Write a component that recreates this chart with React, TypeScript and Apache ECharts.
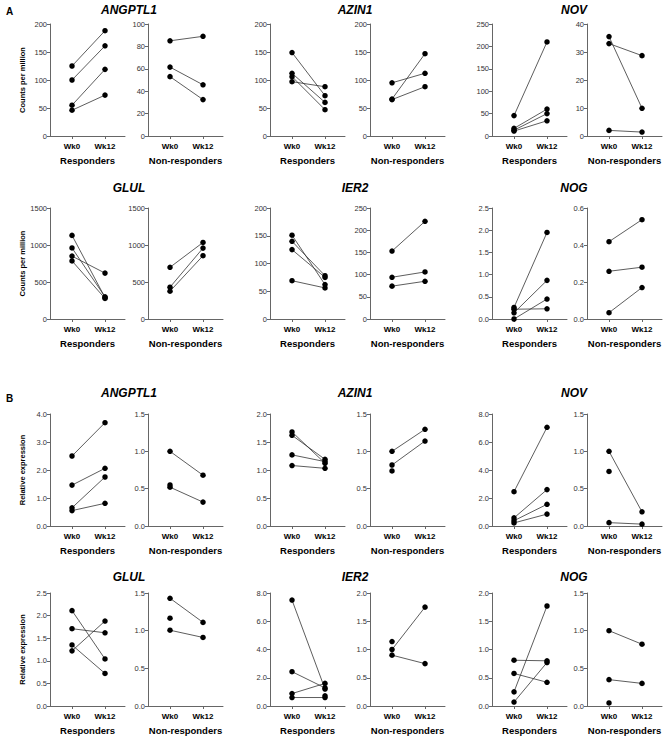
import { useEffect, useRef } from 'react';
import * as echarts from 'echarts';

// ---------- labels ----------
const timepoints = ['Wk0', 'Wk12'];
const groupNames = ['Responders', 'Non-responders'];
const genesRow1 = ['ANGPTL1', 'AZIN1', 'NOV'];
const genesRow2 = ['GLUL', 'IER2', 'NOG'];
const yTitleA = 'Counts per million';
const yTitleB = 'Relative expression';
const sectionLabels = ['A', 'B'];

// ---------- data: [Wk0, Wk12] per subject (null = not measured) ----------
// Panel A (counts per million)
const cpmAngptl1Resp = [[125, 188], [100, 161], [55, 119], [46, 73]];
const cpmAngptl1Non = [[85, 89], [61.5, 45.7], [53, 32.5]];
const cpmAzin1Resp = [[149, 72], [112, 60], [106, 47], [97, 88]];
const cpmAzin1Non = [[95, 112], [66, 147], [65, 88]];
const cpmNovResp = [[45.5, 210], [17, 60], [13, 50], [11, 34]];
const cpmNovNon = [[35.5, 9.9], [33, 28.7], [2, 1.4]];
const cpmGlulResp = [[1130, 290], [960, 300], [850, 620], [785, 278]];
const cpmGlulNon = [[699, 1034], [430, 958], [376, 855]];
const cpmIer2Resp = [[151, 62], [140, 78], [125, 75], [69, 56]];
const cpmIer2Non = [[153, 220], [94, 106], [74, 85]];
const cpmNogResp = [[0.26, 1.95], [0.22, 0.23], [0.14, 0.87], [0.0, 0.45]];
const cpmNogNon = [[0.418, 0.537], [0.258, 0.28], [0.034, 0.17]];

// Panel B (relative expression)
const relAngptl1Resp = [[2.5, 3.69], [1.46, 2.06], [0.65, 1.75], [0.55, 0.81]];
const relAngptl1Non = [[1.0, 0.68], [0.52, 0.32], [0.55, null]];
const relAzin1Resp = [[1.68, 1.12], [1.62, 1.19], [1.27, 1.15], [1.08, 1.03]];
const relAzin1Non = [[1.0, 1.295], [0.817, 1.138], [0.737, null]];
const relNovResp = [[2.45, 7.05], [0.58, 2.6], [0.38, 1.55], [0.22, 0.85]];
const relNovNon = [[1.0, 0.19], [0.045, 0.025], [0.73, null]];
const relGlulResp = [[2.11, 1.04], [1.71, 1.62], [1.35, 0.72], [1.22, 1.88]];
const relGlulNon = [[1.43, 1.11], [1.006, 0.91], [1.166, null]];
const relIer2Resp = [[7.5, 1.2], [2.43, 1.28], [0.88, 1.6], [0.6, 0.6], [null, 0.72]];
const relIer2Non = [[1.0, 1.75], [0.9, 0.75], [1.14, null]];
const relNogResp = [[0.81, 0.8], [0.576, 0.42], [0.25, 1.77], [0.07, 0.77]];
const relNogNon = [[1.0, 0.82], [0.35, 0.3], [0.04, null]];

// axis ranges per panel, row by row: [max, interval, decimals]
const axesRow1 = [[200, 50, 0], [100, 20, 0], [200, 50, 0], [200, 50, 0], [250, 50, 0], [40, 10, 0]];
const axesRow2 = [[1500, 500, 0], [1500, 500, 0], [200, 50, 0], [250, 50, 0], [2.5, 0.5, 1], [0.6, 0.2, 1]];
const axesRow3 = [[4, 1, 1], [1.5, 0.5, 1], [2, 0.5, 1], [1.5, 0.5, 1], [8, 2, 1], [1.5, 0.5, 1]];
const axesRow4 = [[2.5, 0.5, 1], [1.5, 0.5, 1], [8, 2, 1], [2, 0.5, 1], [2, 0.5, 1], [1.5, 0.5, 1]];

const dataRows = [
  [cpmAngptl1Resp, cpmAngptl1Non, cpmAzin1Resp, cpmAzin1Non, cpmNovResp, cpmNovNon],
  [cpmGlulResp, cpmGlulNon, cpmIer2Resp, cpmIer2Non, cpmNogResp, cpmNogNon],
  [relAngptl1Resp, relAngptl1Non, relAzin1Resp, relAzin1Non, relNovResp, relNovNon],
  [relGlulResp, relGlulNon, relIer2Resp, relIer2Non, relNogResp, relNogNon],
];
const axisRows = [axesRow1, axesRow2, axesRow3, axesRow4];

// ---------- layout ----------
const colX = [50, 148, 270, 370, 492, 587];
const rowTop = [24, 208, 414, 593];
const rowBottom = [136, 319, 526, 706];
const plotW = 75;
const titleY = [10, 188, 393, 577];
const titleX = [129, 355, 574];
const FONT = '"Liberation Sans", Arial, Helvetica, sans-serif';

function buildOption() {
  const grid: any[] = [];
  const xAxis: any[] = [];
  const yAxis: any[] = [];
  const series: any[] = [];
  const graphic: any[] = [];

  let idx = 0;
  for (let r = 0; r < 4; r++) {
    for (let c = 0; c < 6; c++) {
      const [max, interval, decimals] = axisRows[r][c];
      const pairs = dataRows[r][c];
      grid.push({
        left: colX[c],
        top: rowTop[r],
        width: plotW,
        height: rowBottom[r] - rowTop[r],
        outerBoundsMode: 'none',
        containLabel: false,
      });
      xAxis.push({
        type: 'value',
        gridIndex: idx,
        min: -0.667,
        max: 1.606,
        name: groupNames[c % 2],
        nameLocation: 'middle',
        nameGap: 19,
        nameTextStyle: { fontFamily: FONT, fontWeight: 'bold', fontSize: 9.5, color: '#000' },
        axisLine: { show: true, onZero: false, lineStyle: { color: '#666', width: 1 } },
        axisTick: { show: true, customValues: [0, 1], length: 3, lineStyle: { color: '#666' } },
        axisLabel: {
          show: true,
          customValues: [0, 1],
          formatter: (v: number) => timepoints[Math.round(v)] ?? '',
          fontFamily: FONT,
          fontWeight: 'bold',
          fontSize: 8,
          color: '#000',
          margin: 6,
        },
        splitLine: { show: false },
      });
      const yAx: any = {
        type: 'value',
        gridIndex: idx,
        min: 0,
        max,
        interval,
        axisLine: { show: true, onZero: false, lineStyle: { color: '#666', width: 1 } },
        axisTick: { show: true, length: 3, lineStyle: { color: '#666' } },
        axisLabel: {
          fontFamily: FONT,
          fontSize: 7.5,
          color: '#333',
          margin: 3,
          formatter: (v: number) => v.toFixed(decimals),
        },
        splitLine: { show: false },
      };
      if (c === 0) {
        yAx.name = r < 2 ? yTitleA : yTitleB;
        yAx.nameLocation = 'middle';
        yAx.nameGap = 24;
        yAx.nameRotate = 90;
        yAx.nameTextStyle = { fontFamily: FONT, fontWeight: 'bold', fontSize: 7.5, color: '#000' };
      }
      yAxis.push(yAx);

      const singles: any[] = [];
      pairs.forEach((p: any[]) => {
        if (p[0] != null && p[1] != null) {
          series.push({
            type: 'line',
            xAxisIndex: idx,
            yAxisIndex: idx,
            data: [[0, p[0]], [1, p[1]]],
            symbol: 'circle',
            symbolSize: 5.5,
            showSymbol: true,
            clip: false,
            itemStyle: { color: '#000', opacity: 1 },
            lineStyle: { color: '#333', width: 0.8 },
            silent: true,
          });
        } else {
          if (p[0] != null) singles.push([0, p[0]]);
          if (p[1] != null) singles.push([1, p[1]]);
        }
      });
      if (singles.length) {
        series.push({
          type: 'scatter',
          xAxisIndex: idx,
          yAxisIndex: idx,
          data: singles,
          symbol: 'circle',
          symbolSize: 5.5,
          clip: false,
          itemStyle: { color: '#000', opacity: 1 },
          silent: true,
        });
      }
      idx++;
    }
    const genes = r % 2 === 0 ? genesRow1 : genesRow2;
    genes.forEach((g, k) => {
      graphic.push({
        type: 'text',
        x: titleX[k],
        y: titleY[r],
        style: {
          text: g,
          fontFamily: FONT,
          fontWeight: 'bold',
          fontStyle: 'italic',
          fontSize: 12,
          fill: '#000',
          align: 'center',
          verticalAlign: 'middle',
        },
      });
    });
  }
  graphic.push({
    type: 'text', x: 6, y: 11,
    style: { text: sectionLabels[0], fontFamily: FONT, fontWeight: 'bold', fontSize: 10, fill: '#000', align: 'left', verticalAlign: 'middle' },
  });
  graphic.push({
    type: 'text', x: 6, y: 398,
    style: { text: sectionLabels[1], fontFamily: FONT, fontWeight: 'bold', fontSize: 10, fill: '#000', align: 'left', verticalAlign: 'middle' },
  });

  return {
    animation: false,
    backgroundColor: '#fff',
    textStyle: { fontFamily: FONT },
    grid,
    xAxis,
    yAxis,
    series,
    graphic,
  };
}

export default function App() {
  const ref = useRef<HTMLDivElement>(null);
  useEffect(() => {
    if (!ref.current) return;
    const chart = echarts.init(ref.current, undefined, { renderer: 'svg' });
    chart.setOption(buildOption() as any);
    return () => chart.dispose();
  }, []);
  return (
    <div
      ref={ref}
      style={{ position: 'fixed', left: 0, top: 0, width: 669, height: 740, background: '#fff' }}
    />
  );
}
